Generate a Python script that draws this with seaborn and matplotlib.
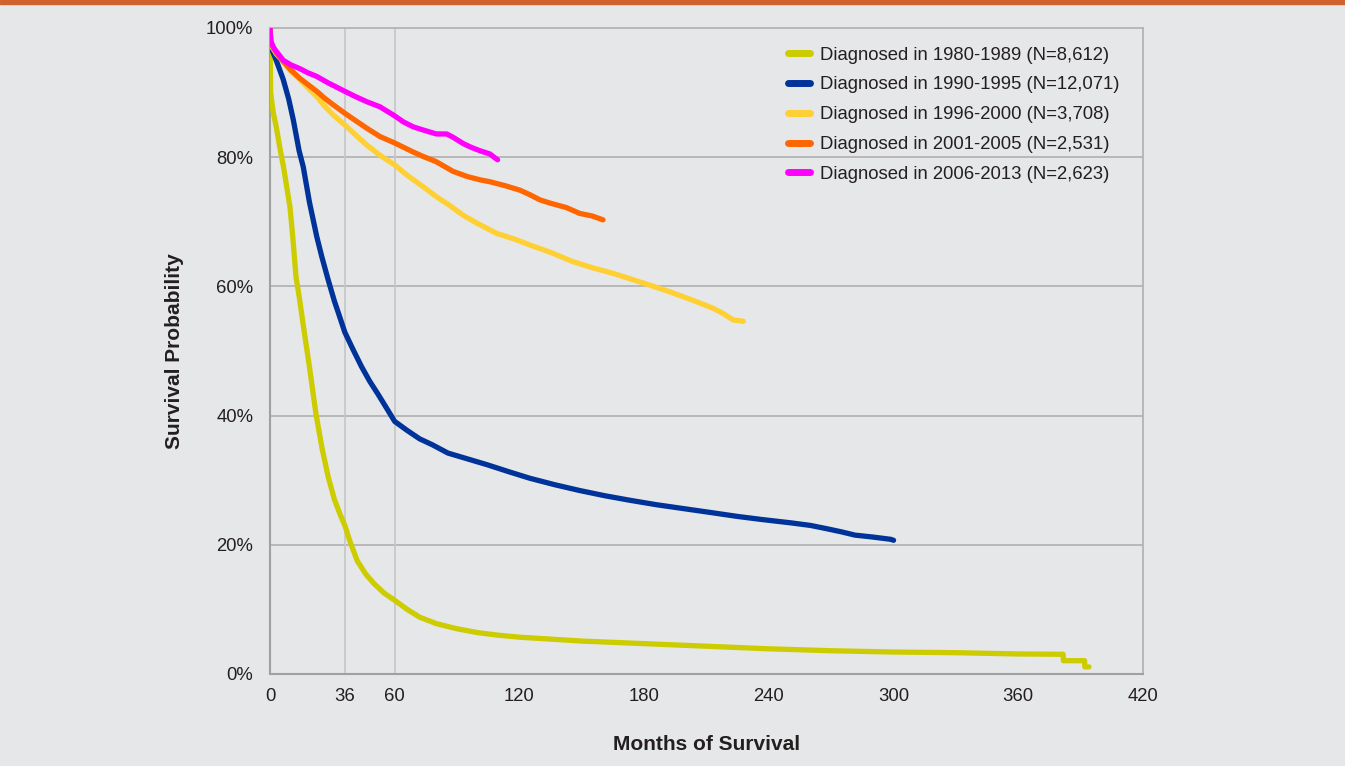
import matplotlib
matplotlib.use("Agg")
import matplotlib.pyplot as plt
import pandas as pd
import seaborn as sns
from matplotlib.patches import Rectangle
from matplotlib.ticker import FixedLocator, MultipleLocator, PercentFormatter

# Kaplan-Meier curves (months, survival %)
months_1980 = [0, 0.3, 1.5, 3, 5, 6.5, 8, 9.6, 11, 12.5, 14, 16, 19, 22, 25, 28, 31, 34, 36,
               38.5, 42, 46, 50, 55, 60, 66, 72, 80, 90, 100, 110, 120, 135, 150, 165, 180,
               210, 240, 270, 300, 330, 360, 381.6, 381.7, 391.9, 392, 394]
surv_1980 = [100, 90, 87, 84.7, 81, 78.5, 75.5, 72.3, 67.5, 61.5, 58.5, 54, 47.5, 40.5, 35,
             30.5, 27, 24.5, 23, 20.5, 17.5, 15.5, 14, 12.5, 11.4, 10, 8.8, 7.8, 7, 6.4, 6,
             5.7, 5.4, 5.1, 4.9, 4.7, 4.3, 3.9, 3.6, 3.4, 3.3, 3.1, 3.05, 2.06, 2.06, 1.1, 1.1]

months_1990 = [0, 0.5, 3, 6.4, 9, 11.2, 14, 16, 19, 22.5, 25, 28, 31, 33, 36, 40, 44, 48, 52,
               56, 60, 66, 72, 78, 85.6, 95, 104.4, 115, 125, 137, 149, 161, 173, 186, 199,
               212, 224.7, 237, 250.5, 260, 267.7, 275, 281.4, 290, 298.6, 300]
surv_1990 = [100, 97, 95, 92, 89, 85.8, 81, 78.5, 73, 67.7, 64.5, 61, 57.7, 55.8, 52.9, 50.2,
             47.6, 45.3, 43.3, 41.2, 39.1, 37.7, 36.4, 35.5, 34.2, 33.3, 32.4, 31.3, 30.3,
             29.3, 28.4, 27.6, 26.9, 26.2, 25.6, 25, 24.4, 23.9, 23.4, 23, 22.5, 22, 21.5,
             21.2, 20.85, 20.7]

months_1996 = [0, 0.5, 3, 6.4, 10, 14.4, 18, 22.5, 26, 30.5, 36, 41, 46.5, 52.9, 60, 66, 73.8,
               80, 86.6, 93, 99.5, 109.1, 118.7, 125.1, 134.7, 146, 155, 165.2, 175, 184.5,
               192, 200.5, 207, 213.3, 218, 222.9, 227.7]
surv_1996 = [100, 97.3, 96, 94.8, 93.3, 92, 90.8, 89.4, 88, 86.5, 85, 83.5, 81.9, 80.3, 78.8,
             77.2, 75.4, 73.9, 72.5, 71, 69.8, 68.2, 67.2, 66.4, 65.3, 63.8, 62.9, 62, 61, 60,
             59.2, 58.2, 57.4, 56.6, 55.8, 54.8, 54.6]

months_2001 = [0, 0.5, 3, 6.4, 10, 14.4, 18, 22.5, 26, 30.5, 36, 41, 46.5, 52.9, 60, 68.9,
               73.8, 80, 88.1, 95, 101, 105.8, 113, 120.2, 125, 129.8, 134.7, 142.6, 149,
               155, 160.2]
surv_2001 = [100, 97.6, 96.2, 94.8, 93.5, 92.2, 91.3, 90.2, 89.2, 88.1, 86.8, 85.7, 84.5,
             83.2, 82.2, 80.8, 80.1, 79.3, 77.8, 77, 76.5, 76.2, 75.6, 74.9, 74.2, 73.4, 72.9,
             72.2, 71.3, 70.9, 70.3]

months_2006 = [0, 0.3, 2, 6.4, 10, 14.4, 18, 22.5, 28, 36, 41, 46.5, 52.9, 60, 64, 68.9, 73.8,
               80, 85, 88, 93, 97, 101, 105.8, 108.2, 109.5]
surv_2006 = [100, 98, 96.8, 95, 94.3, 93.7, 93.1, 92.5, 91.5, 90.2, 89.4, 88.6, 87.8, 86.4,
             85.5, 84.7, 84.2, 83.6, 83.6, 83.1, 82.1, 81.5, 81.0, 80.5, 79.9, 79.6]

cohorts = ["Diagnosed in 1980-1989 (N=8,612)", "Diagnosed in 1990-1995 (N=12,071)",
           "Diagnosed in 1996-2000 (N=3,708)", "Diagnosed in 2001-2005 (N=2,531)",
           "Diagnosed in 2006-2013 (N=2,623)"]
colors = ["#cccc00", "#003399", "#ffd033", "#ff6600", "#ff00ff"]

x_ticks = [0, 36, 60, 120, 180, 240, 300, 360, 420]
y_ticks = [0, 20, 40, 60, 80, 100]
ref_months = [36, 60]

frames = []
for name, m, s in zip(cohorts,
                      [months_1980, months_1990, months_1996, months_2001, months_2006],
                      [surv_1980, surv_1990, surv_1996, surv_2001, surv_2006]):
    frames.append(pd.DataFrame({"months": m, "survival": s, "cohort": name}))
df = pd.concat(frames, ignore_index=True)

sns.set_style("white")
plt.rcParams["font.family"] = ["Liberation Sans", "DejaVu Sans"]
text_color = "#231f20"
bg = "#e6e7e8"

fig = plt.figure(figsize=(13.45, 7.66), dpi=100, facecolor=bg)
ax = fig.add_axes([270 / 1345, 1 - 674 / 766, 873 / 1345, 646 / 766])
ax.set_facecolor(bg)

# top orange band
fig.patches.append(Rectangle((0, 1 - 4 / 766), 1, 4 / 766, transform=fig.transFigure,
                             color="#d0622c", zorder=0))

for y in y_ticks[1:-1]:
    ax.axhline(y, color="#b4b4b4", lw=1.3, zorder=1)
for xm in ref_months:
    ax.axvline(xm, color="#c6c6c6", lw=1.2, zorder=1)

sns.lineplot(data=df, x="months", y="survival", hue="cohort", hue_order=cohorts,
             palette=dict(zip(cohorts, colors)), estimator=None, sort=True,
             lw=3.8, ax=ax, zorder=3)

ax.set_xlim(0, 420)
ax.set_ylim(0, 100)
ax.xaxis.set_major_locator(FixedLocator(x_ticks))
ax.xaxis.set_minor_locator(MultipleLocator(12))
ax.yaxis.set_major_locator(FixedLocator(y_ticks))
ax.yaxis.set_major_formatter(PercentFormatter(decimals=0))
ax.tick_params(axis="x", which="major", direction="out", length=7, width=1.2,
               color="#a0a0a0", labelsize=13.3, labelcolor=text_color, pad=3)
ax.tick_params(axis="x", which="minor", direction="out", length=4, width=1.0,
               color="#a0a0a0")
ax.tick_params(axis="y", length=0, labelsize=13.3, labelcolor=text_color, pad=12)

for side in ["left", "bottom"]:
    ax.spines[side].set_color("#a0a0a0")
    ax.spines[side].set_linewidth(1.5)
for side in ["top", "right"]:
    ax.spines[side].set_color("#b4b4b4")
    ax.spines[side].set_linewidth(1.3)

ax.set_xlabel("Months of Survival", fontsize=15, fontweight="bold", color=text_color,
              labelpad=22)
ax.set_ylabel("Survival Probability", fontsize=15, fontweight="bold", color=text_color,
              labelpad=16)

handles, labels = ax.get_legend_handles_labels()
leg = ax.legend(handles, labels, loc="upper left", bbox_to_anchor=(0.593, 0.971),
                frameon=False, fontsize=13.3, handlelength=1.19, handletextpad=0.54,
                labelspacing=0.69, borderpad=0, borderaxespad=0)
for h in leg.get_lines():
    h.set_linewidth(5)
for t in leg.get_texts():
    t.set_color(text_color)

fig.savefig("out.png", dpi=100, facecolor=bg)
